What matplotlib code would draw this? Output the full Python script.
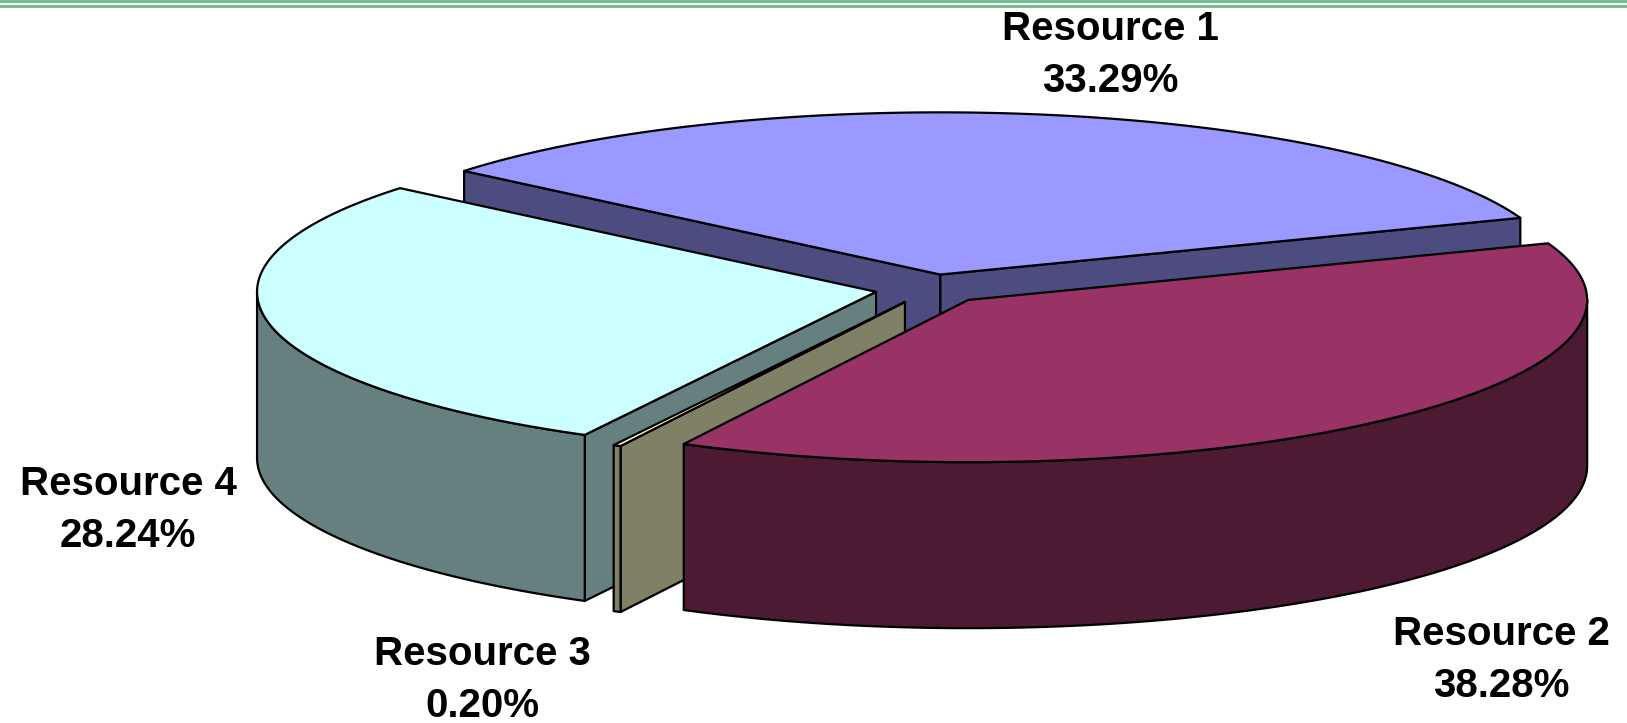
import numpy as np
import matplotlib.pyplot as plt
from matplotlib.patches import Polygon

labels = ['Resource 1', 'Resource 2', 'Resource 3', 'Resource 4']
shares = [33.29, 38.28, 0.20, 28.24]
top_colors = ['#9999FF', '#993366', '#FFFFCC', '#CCFFFF']
side_colors = ['#4C4C80', '#4D1A33', '#808066', '#668080']

# label anchors (x, baseline of first line) in pixels
label_pos = [(1110, 40), (1501, 645), (482, 665), (128, 495)]

# tilted disc, pixel units
cx, cy = 931, 289
radius = 619
tilt = 0.262
depth = 166
explode = 56
start = 140.3  # ccw edge of the first slice, degrees; slices run clockwise


def proj(x, y, low=False):
    return (cx + x, cy - tilt * y + (depth if low else 0))


def arc(ox, oy, t0, t1, n=120):
    t = np.radians(np.linspace(t0, t1, n))
    return ox + radius * np.cos(t), oy + radius * np.sin(t)


fig = plt.figure(figsize=(16.27, 7.23), dpi=100)
ax = fig.add_axes([0, 0, 1, 1])
ax.set_xlim(0, 1627)
ax.set_ylim(723, 0)
ax.axis('off')

edges = start - 360 * np.cumsum([0] + shares) / 100
style = dict(edgecolor='black', linewidth=1.6, joinstyle='round')

faces = []   # (depth key, points, colour)
tops = []
for i in range(len(shares)):
    a, b = edges[i + 1], edges[i]
    mid = np.radians((a + b) / 2)
    ox, oy = explode * np.cos(mid), explode * np.sin(mid)

    xs, ys = arc(ox, oy, a, b)
    top = [proj(ox, oy)] + [proj(x, y) for x, y in zip(xs, ys)]
    tops.append((top, top_colors[i]))

    # flat cut faces, only those turned toward the viewer
    for e, nrm in ((b, b + 90), (a, a - 90)):
        if np.sin(np.radians(nrm)) < 0:
            ex = ox + radius * np.cos(np.radians(e))
            ey = oy + radius * np.sin(np.radians(e))
            pts = [proj(ox, oy), proj(ex, ey), proj(ex, ey, True), proj(ox, oy, True)]
            faces.append(((oy + ey) / 2, pts, side_colors[i]))

    # curved rim, front half of the disc only
    for k in range(-2, 2):
        lo, hi = max(a, -180 + 360 * k), min(b, 360 * k)
        if hi - lo > 0.01:
            rx, ry = arc(ox, oy, lo, hi)
            pts = [proj(x, y) for x, y in zip(rx, ry)]
            pts += [proj(x, y, True) for x, y in zip(rx[::-1], ry[::-1])]
            faces.append((np.mean(ry), pts, side_colors[i]))

for _, pts, col in sorted(faces, key=lambda f: -f[0]):
    ax.add_patch(Polygon(pts, closed=True, facecolor=col, **style))
for pts, col in tops:
    ax.add_patch(Polygon(pts, closed=True, facecolor=col, **style))

for name, val, (lx, ly) in zip(labels, shares, label_pos):
    for j, line in enumerate([name, f'{val:.2f}%']):
        ax.text(lx, ly + 52 * j, line, ha='center', va='baseline',
                fontsize=29, fontweight='bold', family='Liberation Sans')

# double rule along the top edge
for y in (1.2, 6.0):
    ax.axhline(y, color='#66b584', linewidth=1.9)

fig.savefig('out.png', dpi=100)
